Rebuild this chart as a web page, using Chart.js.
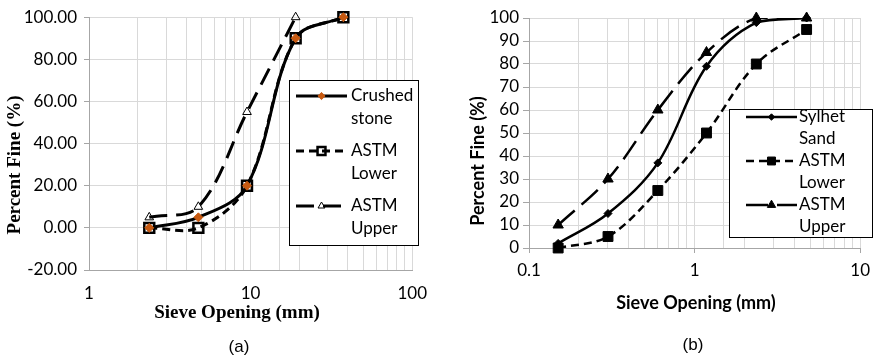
<!DOCTYPE html>
<html>
<head>
<meta charset="utf-8">
<title>Sieve analysis</title>
<script src="https://cdn.jsdelivr.net/npm/chart.js@4/dist/chart.umd.min.js"></script>
<style>
  body { margin: 0; background: #fff; }
  #wrap { position: relative; width: 877px; height: 361px; }
  .box { position: absolute; top: 0; height: 361px; }
  #boxA { left: 0; width: 440px; }
  #boxB { left: 440px; width: 437px; }
  .cap { position: absolute; font-family: "Liberation Sans", Arial, sans-serif; font-size: 17px; transform: translate(-50%, -50%); }
</style>
</head>
<body>
<div id="wrap">
  <div class="box" id="boxA"><canvas id="chartA"></canvas></div>
  <div class="box" id="boxB"><canvas id="chartB"></canvas></div>
  <div class="cap" style="left:239px; top:347px">(a)</div>
  <div class="cap" style="left:693px; top:345px">(b)</div>
</div>
<script>
// (a) crushed stone
const sievesA = [2.36, 4.75, 9.5, 19, 37.5];
const crushedStone = [0, 5, 20, 90, 100];
const astmLowerA = [0, 0, 20, 90, 100];
const astmUpperA = [5, 10, 55, 100];
const namesA = ['Crushed stone', 'ASTM Lower', 'ASTM Upper'];
const yTicksA = [-20, 0, 20, 40, 60, 80, 100];
const xLabelsA = [1, 10, 100];

// (b) sylhet sand
const sievesB = [0.15, 0.3, 0.6, 1.18, 2.36, 4.75];
const sylhetSand = [2, 15, 37, 79, 98, 100];
const astmLowerB = [0, 5, 25, 50, 80, 95];
const astmUpperB = [10, 30, 60, 85, 100, 100];
const namesB = ['Sylhet Sand', 'ASTM Lower', 'ASTM Upper'];
const yTicksB = [0, 10, 20, 30, 40, 50, 60, 70, 80, 90, 100];
const xLabelsB = [0.1, 1, 10];

const tickFont = { family: 'Lato', size: 17 };
const gridGrey = '#d9d9d9';
const axisGrey = '#a6a6a6';

const stylesA = [
  { width: 3, dash: [], point: 'rectRot', radius: 4.5, fill: '#C65911', stroke: '#C65911', pw: 1 },
  { width: 3, dash: [8, 5], point: 'rect', radius: 7, fill: 'rgba(0,0,0,0)', stroke: '#000', pw: 2.5 },
  { width: 3, dash: [18, 9], point: 'triangle', radius: 5, fill: 'rgba(0,0,0,0)', stroke: '#000', pw: 1 }
];
const stylesB = [
  { width: 2.5, dash: [], point: 'rectRot', radius: 4, fill: '#000', stroke: '#000', pw: 1 },
  { width: 2.5, dash: [8, 5], point: 'rect', radius: 7, fill: '#000', stroke: '#000', pw: 1 },
  { width: 2.5, dash: [22, 9], point: 'triangle', radius: 6, fill: '#000', stroke: '#000', pw: 1 }
];

function pts(xs, ys) {
  return ys.map((y, i) => ({ x: xs[i], y: y }));
}

// each series: one clipped smooth line + one unclipped marker set on top
function buildSets(xs, series, names, styles) {
  const lines = [], marks = [];
  series.forEach((ys, i) => {
    const s = styles[i];
    lines.push({
      label: names[i], data: pts(xs, ys), borderColor: '#000', borderWidth: s.width,
      borderDash: s.dash, borderCapStyle: 'butt', tension: 0.35, pointRadius: 0, fill: false, order: 1
    });
    marks.push({
      label: names[i] + ' pts', data: pts(xs, ys), showLine: false, clip: false,
      pointStyle: s.point, pointRadius: s.radius, pointBackgroundColor: s.fill,
      pointBorderColor: s.stroke, pointBorderWidth: s.pw, order: 0
    });
  });
  return lines.concat(marks);
}

function markerPath(ctx, style, x, y, r) {
  ctx.beginPath();
  if (style === 'rect') {
    const s = r * Math.SQRT1_2;
    ctx.rect(x - s, y - s, 2 * s, 2 * s);
  } else if (style === 'rectRot') {
    ctx.moveTo(x, y - r); ctx.lineTo(x + r, y); ctx.lineTo(x, y + r); ctx.lineTo(x - r, y); ctx.closePath();
  } else {
    ctx.moveTo(x, y - r); ctx.lineTo(x + 0.866 * r, y + 0.5 * r); ctx.lineTo(x - 0.866 * r, y + 0.5 * r); ctx.closePath();
  }
}

const axisTitles = {
  id: 'axisTitles',
  afterDraw(chart, args, o) {
    const ctx = chart.ctx;
    o.items.forEach(t => {
      ctx.save();
      ctx.font = t.font;
      ctx.fillStyle = '#000';
      ctx.textAlign = 'center';
      ctx.textBaseline = 'middle';
      ctx.translate(t.x, t.y);
      ctx.rotate(t.rot || 0);
      ctx.fillText(t.text, 0, 0);
      ctx.restore();
    });
  }
};

const boxLegend = {
  id: 'boxLegend',
  afterDraw(chart, args, o) {
    const ctx = chart.ctx;
    ctx.save();
    ctx.fillStyle = '#fff';
    ctx.fillRect(o.x, o.y, o.w, o.h);
    ctx.strokeStyle = '#000';
    ctx.lineWidth = 1;
    ctx.strokeRect(o.x + 0.5, o.y + 0.5, o.w, o.h);
    o.names.forEach((name, i) => {
      const s = o.styles[i], y = o.rows[i];
      ctx.strokeStyle = '#000';
      ctx.lineWidth = s.width;
      ctx.setLineDash(s.dash);
      ctx.beginPath(); ctx.moveTo(o.x0, y); ctx.lineTo(o.x1, y); ctx.stroke();
      ctx.setLineDash([]);
      markerPath(ctx, s.point, (o.x0 + o.x1) / 2, y, s.radius * 0.8);
      ctx.fillStyle = s.fill; ctx.fill();
      ctx.strokeStyle = s.stroke; ctx.lineWidth = s.pw; ctx.stroke();
      ctx.fillStyle = '#000';
      ctx.font = o.font;
      ctx.textAlign = 'left';
      ctx.textBaseline = 'middle';
      name.split(' ').forEach((w, k) => ctx.fillText(w, o.tx, y + k * o.gap));
    });
    ctx.restore();
  }
};

function isLabel(list, v) {
  return list.some(l => Math.abs(l - v) < 1e-9);
}

new Chart(document.getElementById('chartA'), {
  type: 'line',
  data: { datasets: buildSets(sievesA, [crushedStone, astmLowerA, astmUpperA], namesA, stylesA) },
  options: {
    responsive: true, maintainAspectRatio: false, animation: false,
    layout: { padding: { top: 14, right: 24, bottom: 0, left: 0 } },
    plugins: {
      legend: { display: false }, tooltip: { enabled: false },
      axisTitles: { items: [
        { text: 'Percent Fine (%)', font: 'bold 19px "Liberation Serif"', x: 15, y: 165, rot: -Math.PI / 2 },
        { text: 'Sieve Opening (mm)', font: 'bold 19px "Liberation Serif"', x: 237, y: 313 }
      ] },
      boxLegend: { names: namesA, styles: stylesA, x: 289, y: 80, w: 129, h: 165, x0: 296, x1: 347, tx: 351,
        rows: [96, 151, 206], gap: 23, font: '17px Lato' }
    },
    scales: {
      x: {
        type: 'logarithmic', min: 1, max: 100,
        afterFit: s => { s.height = 91; },
        grid: { color: gridGrey, drawTicks: false },
        border: { color: axisGrey },
        ticks: { font: tickFont, color: '#000', padding: 13, autoSkip: false, maxRotation: 0,
          callback: v => isLabel(xLabelsA, v) ? String(v) : '' }
      },
      y: {
        min: -20, max: 100,
        afterBuildTicks: s => { s.ticks = yTicksA.map(v => ({ value: v })); },
        afterFit: s => { s.width = 89; },
        grid: { color: gridGrey, tickLength: 5, tickColor: axisGrey },
        border: { color: axisGrey },
        ticks: { font: tickFont, color: '#000', padding: 7, autoSkip: false, callback: v => v.toFixed(2) }
      }
    }
  },
  plugins: [axisTitles, boxLegend]
});

new Chart(document.getElementById('chartB'), {
  type: 'line',
  data: { datasets: buildSets(sievesB, [sylhetSand, astmLowerB, astmUpperB], namesB, stylesB) },
  options: {
    responsive: true, maintainAspectRatio: false, animation: false,
    layout: { padding: { top: 18, right: 13, bottom: 0, left: 0 } },
    plugins: {
      legend: { display: false }, tooltip: { enabled: false },
      axisTitles: { items: [
        { text: 'Percent Fine (%)', font: 'bold 18px Lato', x: 38, y: 161, rot: -Math.PI / 2 },
        { text: 'Sieve Opening (mm)', font: 'bold 18px Lato', x: 256, y: 303 }
      ] },
      boxLegend: { names: namesB, styles: stylesB, x: 289, y: 109, w: 143, h: 128, x0: 306, x1: 357, tx: 359,
        rows: [117, 161, 205], gap: 22, font: '17px Lato' }
    },
    scales: {
      x: {
        type: 'logarithmic', min: 0.1, max: 10,
        afterFit: s => { s.height = 113; },
        grid: { color: gridGrey, tickLength: 5,
          tickColor: c => (c.tick && isLabel(xLabelsB, c.tick.value)) ? axisGrey : 'rgba(0,0,0,0)' },
        border: { color: axisGrey },
        ticks: { font: tickFont, color: '#000', padding: 7, autoSkip: false, maxRotation: 0,
          callback: v => isLabel(xLabelsB, v) ? String(v) : '' }
      },
      y: {
        min: 0, max: 100,
        afterBuildTicks: s => { s.ticks = yTicksB.map(v => ({ value: v })); },
        afterFit: s => { s.width = 89; },
        grid: { color: gridGrey, tickLength: 6, tickColor: axisGrey },
        border: { color: axisGrey },
        ticks: { font: tickFont, color: '#000', padding: 4, autoSkip: false }
      }
    }
  },
  plugins: [axisTitles, boxLegend]
});
</script>
</body>
</html>
